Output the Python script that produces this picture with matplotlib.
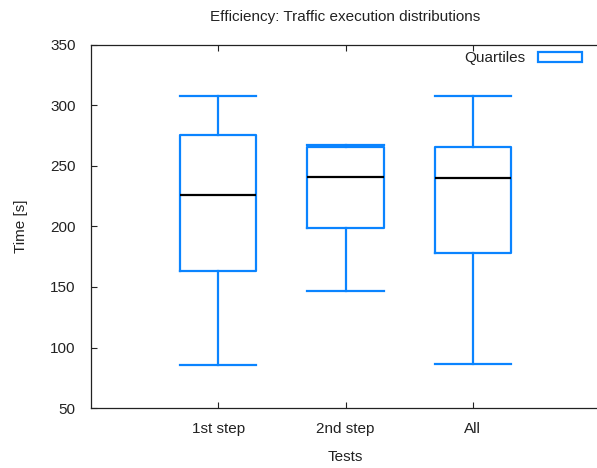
import matplotlib
matplotlib.use("Agg")
import matplotlib.pyplot as plt
from matplotlib.patches import Patch

plt.rcParams['font.family'] = ['Liberation Sans', 'DejaVu Sans']

categories = ["1st step", "2nd step", "All"]
whisker_low = [85.5, 146.5, 86.0]
q1 = [163.0, 198.5, 178.0]
median = [226.0, 240.5, 240.0]
q3 = [275.5, 265.5, 266.0]
whisker_high = [308.0, 267.0, 308.0]
y_ticks = [50, 100, 150, 200, 250, 300, 350]

blue = '#0a84ff'
ink = '#222222'
fs = 11

fig = plt.figure(figsize=(5.97, 4.68), dpi=100)
ax = fig.add_axes([91 / 597, 1 - 408 / 468, (600 - 91) / 597, (408 - 45) / 468])

stats = [
    dict(label=c, whislo=lo, q1=a, med=m, q3=b, whishi=hi, fliers=[])
    for c, lo, a, m, b, hi in zip(categories, whisker_low, q1, median, q3, whisker_high)
]
positions = list(range(1, len(categories) + 1))
ax.bxp(stats, positions=positions, widths=0.6, showfliers=False,
       boxprops=dict(color=blue, linewidth=1.6),
       whiskerprops=dict(color=blue, linewidth=1.6),
       capprops=dict(color=blue, linewidth=1.6),
       medianprops=dict(color='black', linewidth=1.6),
       capwidths=0.6)

ax.set_xlim(0, 4)
ax.set_ylim(50, 350)
ax.set_xticks(positions)
ax.set_xticklabels(categories)
ax.set_yticks(y_ticks)
ax.tick_params(axis='both', direction='in', length=4, width=0.8,
               labelsize=fs, colors=ink, pad=11)
ax.tick_params(axis='x', top=True, pad=10)
ax.spines['right'].set_visible(False)
for s in ax.spines.values():
    s.set_linewidth(0.9)
    s.set_color(ink)

ax.set_title("Efficiency: Traffic execution distributions", fontsize=fs,
             color=ink, pad=17)
ax.set_xlabel("Tests", fontsize=fs, color=ink, labelpad=10)
ax.set_ylabel("Time [s]", fontsize=fs, color=ink, labelpad=16)

handle = Patch(facecolor='white', edgecolor=blue, linewidth=1.6)
ax.legend([handle], ["Quartiles"], loc='upper right', frameon=False,
          markerfirst=False, fontsize=fs, handlelength=2.9, handleheight=0.55,
          handletextpad=0.8, borderaxespad=0.0, bbox_to_anchor=(0.977, 0.999),
          labelcolor=ink)

fig.savefig("out.png", dpi=100)
